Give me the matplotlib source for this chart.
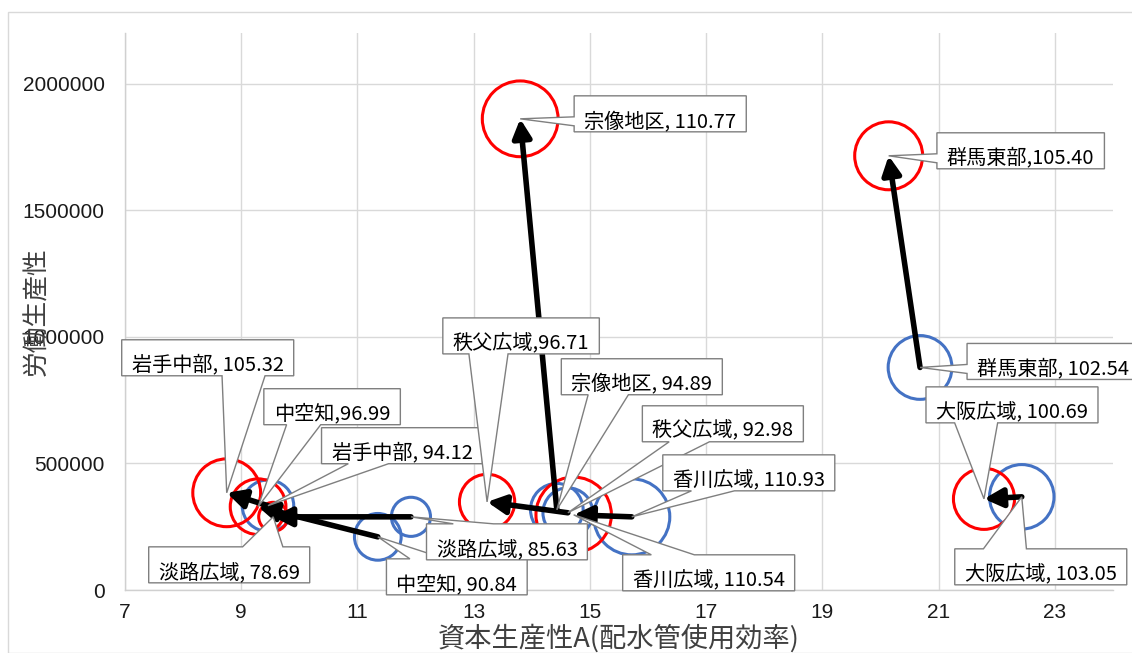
import matplotlib
matplotlib.use("Agg")
import matplotlib.pyplot as plt
from matplotlib.patches import Polygon, Rectangle
from matplotlib.ticker import FixedLocator, FuncFormatter

plt.rcParams['font.family'] = ['Noto Sans CJK JP', 'DejaVu Sans']

W, H, DPI = 1132, 653, 100

# ---------------- data ----------------
regions = ['岩手中部', '中空知', '淡路広域', '秩父広域', '宗像地区', '香川広域', '群馬東部', '大阪広域']

# before (blue bubbles)
x_before = [9.46, 11.35, 11.92, 14.62, 14.43, 15.72, 20.68, 22.43]
y_before = [333000, 210000, 289000, 305000, 317000, 289000, 879000, 368000]
v_before = [94.12, 90.84, 85.63, 92.98, 94.89, 110.93, 102.54, 103.05]
labels_before = ['岩手中部, 94.12', '中空知, 90.84', '淡路広域, 85.63', '秩父広域, 92.98',
                 '宗像地区, 94.89', '香川広域, 110.93', '群馬東部, 102.54', '大阪広域, 103.05']

# after (red bubbles)
x_after = [8.75, 9.29, 9.55, 13.23, 13.80, 14.72, 20.14, 21.78]
y_after = [384000, 329000, 289000, 348000, 1861000, 297000, 1715000, 360000]
v_after = [105.32, 96.99, 78.69, 96.71, 110.77, 110.54, 105.40, 100.69]
labels_after = ['岩手中部, 105.32', '中空知,96.99', '淡路広域, 78.69', '秩父広域,96.71',
                '宗像地区, 110.77', '香川広域, 110.54', '群馬東部,105.40', '大阪広域, 100.69']

x_ticks = [7, 9, 11, 13, 15, 17, 19, 21, 23]
y_ticks = [0, 500000, 1000000, 1500000, 2000000]
x_title = '資本生産性A(配水管使用効率)'
y_title = '労働生産性'

# ---------------- layout (label centre offsets in px: right, down) ----------------
off_before = [(134, -55), (79, 45), (96, 30), (155, -84), (85, -128), (117, -39), (133, -1), (19, 75)]
off_after = [(-19, -130), (74, -95), (-44, 53), (34, -161), (140, 0), (135, 63), (132, 0), (28, -89)]

BLUE = '#4472C4'
RED = '#FF0000'

fig = plt.figure(figsize=(W / DPI, H / DPI), dpi=DPI)
fig.add_artist(Rectangle((8 / W, 0), 2, 1 - 12 / H, transform=fig.transFigure,
                         fill=False, edgecolor='#D9D9D9', lw=1.0))

L, R, T, B = 125, 1113, 33, 590
ax = fig.add_axes([L / W, 1 - B / H, (R - L) / W, (B - T) / H])
ax.set_xlim(7, 24)
ax.set_ylim(0, 2200000)
ax.xaxis.set_major_locator(FixedLocator(x_ticks))
ax.yaxis.set_major_locator(FixedLocator(y_ticks))
ax.yaxis.set_major_formatter(FuncFormatter(lambda v, p: f'{int(v)}'))
ax.grid(True, color='#D9D9D9', lw=1.0, zorder=0)
ax.set_axisbelow(True)
for s in ['top', 'right']:
    ax.spines[s].set_visible(False)
for s in ['left', 'bottom']:
    ax.spines[s].set_color('#D0D0D0')
    ax.spines[s].set_linewidth(1.0)
ax.tick_params(length=0, labelsize=15, labelcolor='#1a1a1a')
ax.tick_params(axis='y', pad=14.5)
ax.tick_params(axis='x', pad=9)
for lab in ax.get_xticklabels() + ax.get_yticklabels():
    lab.set_family(['Liberation Sans', 'DejaVu Sans'])

ax.set_xlabel(x_title, fontsize=19.6, color='#404040', va='center')
ax.xaxis.set_label_coords(0.5, (B - 638) / (B - T))
ax.set_ylabel(y_title, fontsize=18.5, color='#404040', va='center')
ax.yaxis.set_label_coords((37 - L) / (R - L), (B - 312) / (B - T))


def bubble_size(vals):
    out = []
    for v in vals:
        r_out = 16 + 0.729 * (v - 78.69)          # outer radius in px
        d_pt = 2 * (r_out - 1.5) * 72 / DPI
        out.append(d_pt ** 2)
    return out


ax.scatter(x_before, y_before, s=bubble_size(v_before), facecolors='none',
           edgecolors=BLUE, linewidths=2.2, zorder=2)
ax.scatter(x_after, y_after, s=bubble_size(v_after), facecolors='none',
           edgecolors=RED, linewidths=2.2, zorder=3)

# arrows from before to after
for xb, yb, xa, ya in zip(x_before, y_before, x_after, y_after):
    ax.annotate('', xy=(xa, ya), xytext=(xb, yb),
                arrowprops=dict(arrowstyle='-|>,head_length=0.55,head_width=0.28',
                                mutation_scale=20, lw=4.0, color='black',
                                shrinkA=0, shrinkB=0),
                zorder=8)

fig.canvas.draw()
renderer = fig.canvas.get_renderer()


def callout_poly(l, t, r, b, tx, ty):
    w = r - l
    h = b - t
    hc = (l + r) / 2
    vc = (t + b) / 2
    dxPos = tx - hc
    dyPos = ty - vc
    xPos, yPos = tx, ty
    dq = dxPos * h / w
    dz = abs(dyPos) - abs(dq)
    xg1, xg2 = (7, 10) if dxPos > 0 else (2, 5)
    yg1, yg2 = (7, 10) if dyPos > 0 else (2, 5)
    x1 = l + w * xg1 / 12
    x2 = l + w * xg2 / 12
    y1 = t + h * yg1 / 12
    y2 = t + h * yg2 / 12
    t1 = l if dxPos > 0 else xPos
    xl = l if dz > 0 else t1
    t2 = x1 if dyPos > 0 else xPos
    xt = t2 if dz > 0 else x1
    t3 = xPos if dxPos > 0 else r
    xr = r if dz > 0 else t3
    t4 = xPos if dyPos > 0 else x1
    xb = t4 if dz > 0 else x1
    t5 = y1 if dxPos > 0 else yPos
    yl = y1 if dz > 0 else t5
    t6 = t if dyPos > 0 else yPos
    yt = t6 if dz > 0 else t
    t7 = yPos if dxPos > 0 else y1
    yr = y1 if dz > 0 else t7
    t8 = yPos if dyPos > 0 else b
    yb = t8 if dz > 0 else b
    return [(l, t), (x1, t), (xt, yt), (x2, t), (r, t), (r, y1), (xr, yr), (r, y2),
            (r, b), (x2, b), (xb, yb), (x1, b), (l, b), (l, y2), (xl, yl), (l, y1)]


def add_label(x, y, text, off, z):
    px, py = ax.transData.transform((x, y))
    tx, ty = px, H - py                       # image coords (y down)
    cx, cy = tx + off[0], ty + off[1]
    txt = fig.text(cx / W, 1 - cy / H, text, ha='center', va='center_baseline',
                   fontsize=14.5, color='black', zorder=z + 0.5)
    ext = txt.get_window_extent(renderer)
    tw = ext.width
    l, r = cx - tw / 2 - 10, cx + tw / 2 + 10
    t, b = cy - 18 - 5, cy + 18 - 5
    pts = callout_poly(l, t, r, b, tx, ty)
    poly = Polygon([(xx / W, 1 - yy / H) for xx, yy in pts], closed=True,
                   transform=fig.transFigure, facecolor='white', edgecolor='#7F7F7F',
                   lw=1.0, zorder=z)
    fig.add_artist(poly)


z = 4
for x, y, s, o in zip(x_before, y_before, labels_before, off_before):
    add_label(x, y, s, o, z)
    z += 1
for x, y, s, o in zip(x_after, y_after, labels_after, off_after):
    add_label(x, y, s, o, z)
    z += 1

# put arrows on top of the labels
for child in ax.texts:
    child.set_zorder(50)

fig.savefig('out.png', dpi=DPI)
